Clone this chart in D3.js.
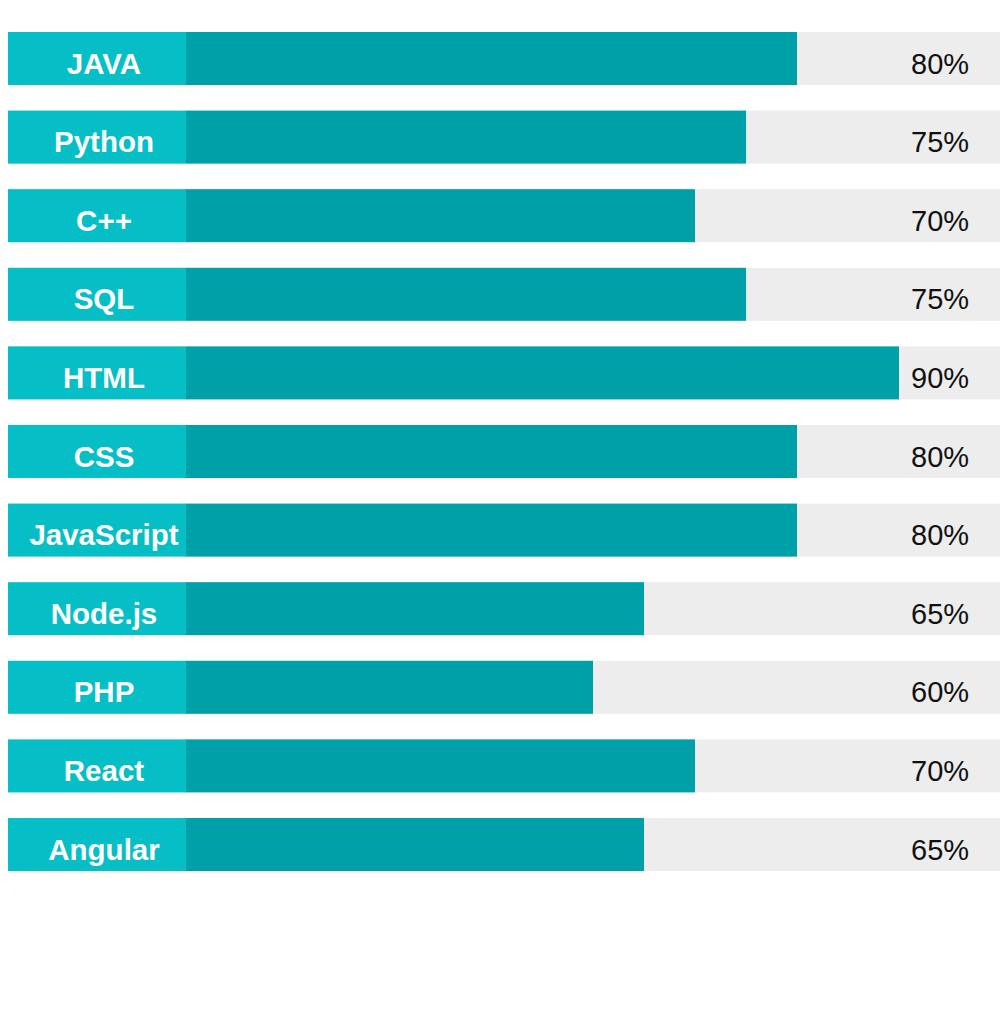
<!DOCTYPE html>
<html>
<head>
<meta charset="utf-8">
<script src="https://cdn.jsdelivr.net/npm/d3@7"></script>
<style>
  html, body { margin: 0; padding: 0; background: #ffffff; }
  svg { display: block; }
</style>
</head>
<body>
<script>
const categories = ["JAVA", "Python", "C++", "SQL", "HTML", "CSS", "JavaScript", "Node.js", "PHP", "React", "Angular"];
const values = [80, 75, 70, 75, 90, 80, 80, 65, 60, 70, 65];
const valueLabels = ["80%", "75%", "70%", "75%", "90%", "80%", "80%", "65%", "60%", "70%", "65%"];

const W = 1000, H = 1029;
const svg = d3.select("body").append("svg").attr("width", W).attr("height", H);

const y = d3.scaleBand().domain(categories).range([32, 871]).paddingInner(0.3257).paddingOuter(0);
const x = d3.scaleLinear().domain([0, 100]).range([-19, 1001]);

const trackLeft = 8, trackRight = 1000, labelRight = 186;

const rows = svg.selectAll("g.row")
  .data(categories.map((c, i) => ({ c, v: values[i], t: valueLabels[i] })))
  .join("g").attr("class", "row")
  .attr("transform", d => `translate(0,${y(d.c)})`);

rows.append("rect")
  .attr("x", trackLeft).attr("y", 0)
  .attr("width", trackRight - trackLeft).attr("height", y.bandwidth())
  .attr("fill", "#ededed");

rows.append("rect")
  .attr("x", labelRight).attr("y", 0)
  .attr("width", d => x(d.v) - labelRight).attr("height", y.bandwidth())
  .attr("fill", "#00a0a8");

rows.append("rect")
  .attr("x", trackLeft).attr("y", 0)
  .attr("width", labelRight - trackLeft).attr("height", y.bandwidth())
  .attr("fill", "#06bfc6");

rows.append("text")
  .attr("x", 104).attr("y", 41.5)
  .attr("text-anchor", "middle")
  .attr("font-family", "Liberation Sans, Arial, sans-serif")
  .attr("font-weight", "bold")
  .attr("font-size", 29.5)
  .attr("fill", "#ffffff")
  .text(d => d.c);

rows.append("text")
  .attr("x", 911).attr("y", 41.5)
  .attr("text-anchor", "start")
  .attr("font-family", "Liberation Sans, Arial, sans-serif")
  .attr("font-size", 29)
  .attr("fill", "#111111")
  .text(d => d.t);
</script>
</body>
</html>
